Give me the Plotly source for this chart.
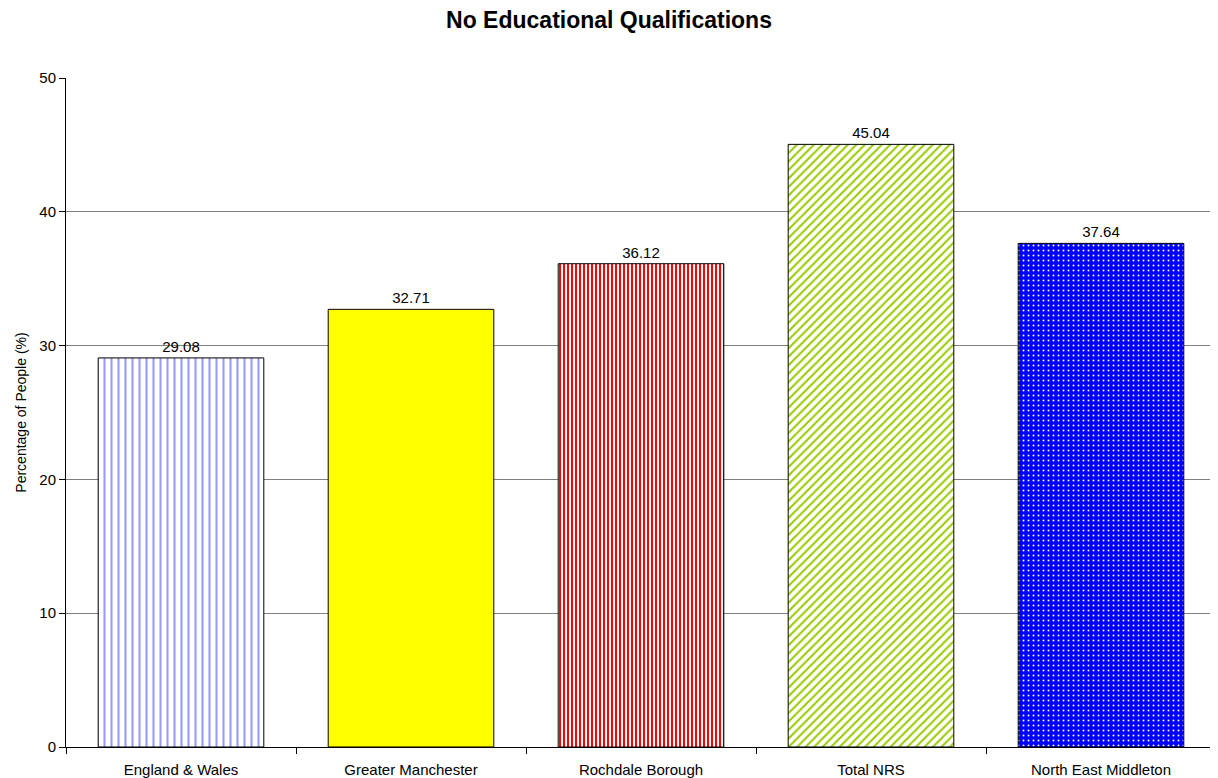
import plotly.graph_objects as go

categories = ["England & Wales", "Greater Manchester", "Rochdale Borough", "Total NRS", "North East Middleton"]
values = [29.08, 32.71, 36.12, 45.04, 37.64]
labels = ["29.08", "32.71", "36.12", "45.04", "37.64"]

patterns = [
    dict(shape="|", fgcolor="#9999FF", bgcolor="white", size=7, solidity=0.3, fillmode="replace"),
    dict(shape="", bgcolor="#FFFF00"),
    dict(shape="|", fgcolor="#FF0000", bgcolor="white", size=4, solidity=0.5, fillmode="replace"),
    dict(shape="/", fgcolor="#99CC00", bgcolor="white", size=6, solidity=0.35, fillmode="replace"),
    dict(shape=".", fgcolor="white", bgcolor="#0000FF", size=5, solidity=0.12, fillmode="replace"),
]

FONT = "Arial, Liberation Sans, sans-serif"

fig = go.Figure()
for c, v, t, p in zip(categories, values, labels, patterns):
    fig.add_trace(go.Bar(
        x=[c], y=[v], text=[t], textposition="outside",
        textfont=dict(family=FONT, size=15, color="black"),
        marker=dict(color=p.get("bgcolor"), pattern=p, line=dict(color="black", width=1)),
        width=0.72, showlegend=False, cliponaxis=False,
    ))

fig.update_layout(
    width=1210, height=770,
    margin=dict(l=58, r=2, t=70, b=31),
    paper_bgcolor="white", plot_bgcolor="white",
    font=dict(family=FONT, size=15, color="black"),
    title=dict(text="<b>No Educational Qualifications</b>", x=0.4967, xanchor="center",
               xref="container", yref="container", y=0.984, yanchor="middle",
               font=dict(size=23)),
    barmode="overlay",
)
fig.update_xaxes(
    type="category", categoryorder="array", categoryarray=categories,
    showline=True, linecolor="black", linewidth=1,
    ticks="outside", tickson="boundaries", ticklen=6, tickcolor="black",
    showgrid=False, tickfont=dict(size=15), automargin=False,
    ticklabelstandoff=9,
)
fig.update_yaxes(
    range=[0, 50], dtick=10, showline=True, linecolor="black", linewidth=1,
    ticks="outside", ticklen=6, tickcolor="black",
    showgrid=True, gridcolor="#808080", gridwidth=1, zeroline=False,
    title=dict(text="Percentage of People (%)", font=dict(size=14), standoff=9),
    tickfont=dict(size=15), automargin=False,
)

fig.write_html("out.html")
